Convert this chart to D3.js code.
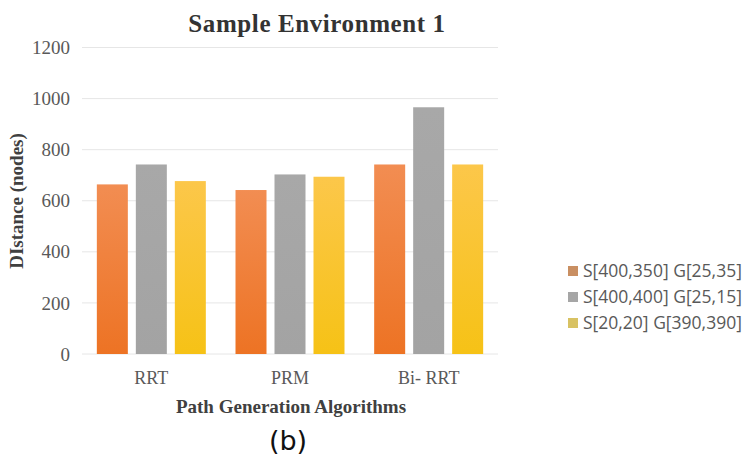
<!DOCTYPE html>
<html>
<head>
<meta charset="utf-8">
<script src="https://cdn.jsdelivr.net/npm/d3@7"></script>
<style>
  body { margin: 0; background: #fff; }
  svg { display: block; }
</style>
</head>
<body>
<div id="vis"></div>
<script>
'use strict';

// Data
const algorithms = ["RRT", "PRM", "Bi- RRT"];
const seriesNames = ["S[400,350] G[25,35]", "S[400,400] G[25,15]", "S[20,20] G[390,390]"];
const series1 = [664, 642, 742];
const series2 = [742, 703, 966];
const series3 = [677, 694, 742];
const yTicks = [0, 200, 400, 600, 800, 1000, 1200];

const seriesValues = [series1, series2, series3];

// Bar colours (top, bottom of gradient) and legend swatches
const barColors = [
    ["#F28D52", "#ED7324"],
    ["#A8A8A8", "#A3A3A3"],
    ["#FCC74A", "#F6C216"]
];
const swatchColors = ["#C98F62", "#A6A6A6", "#D8C263"];

const width = 750, height = 462;
const plot = {left: 82, right: 498, top: 47.5, bottom: 354};
const serif = "'Liberation Serif', 'DejaVu Serif', serif";

let svg = d3.select("#vis").append("svg")
    .attr("width", width)
    .attr("height", height);

let defs = svg.append("defs");
barColors.forEach((c, i) => {
    let g = defs.append("linearGradient")
        .attr("id", "grad" + i)
        .attr("x1", 0).attr("y1", 0).attr("x2", 0).attr("y2", 1);
    g.append("stop").attr("offset", "0%").attr("stop-color", c[0]);
    g.append("stop").attr("offset", "100%").attr("stop-color", c[1]);
});

// Scales
let x0 = d3.scaleBand()
    .domain(algorithms)
    .range([plot.left, plot.right])
    .paddingInner(0.214)
    .paddingOuter(0.107);

let x1 = d3.scaleBand()
    .domain(d3.range(seriesNames.length))
    .range([0, x0.bandwidth()])
    .paddingInner(0.205);

let y = d3.scaleLinear()
    .domain([0, 1200])
    .range([plot.bottom, plot.top]);

// Gridlines
svg.append("g")
    .selectAll("line")
    .data(yTicks)
    .enter()
    .append("line")
        .attr("x1", plot.left)
        .attr("x2", plot.right)
        .attr("y1", d => y(d))
        .attr("y2", d => y(d))
        .attr("stroke", "#E6E6E6")
        .attr("stroke-width", 1);

// Y axis labels
let yAxis = svg.append("g")
    .attr("transform", "translate(" + (plot.left - 12) + ",0)")
    .call(d3.axisLeft(y).tickValues(yTicks).tickFormat(d3.format("d")).tickSize(0).tickPadding(0));
yAxis.select(".domain").remove();
yAxis.selectAll("text")
    .attr("fill", "#595959")
    .style("font-family", serif)
    .style("font-size", "19px");

// X axis labels
let xAxis = svg.append("g")
    .attr("transform", "translate(0," + plot.bottom + ")")
    .call(d3.axisBottom(x0).tickSize(0).tickPadding(17));
xAxis.select(".domain").remove();
xAxis.selectAll("text")
    .attr("fill", "#595959")
    .style("font-family", serif)
    .style("font-size", "18px");

// Bars
let groups = svg.append("g")
    .selectAll("g")
    .data(algorithms)
    .enter()
    .append("g")
        .attr("transform", d => "translate(" + x0(d) + ",0)");

groups.selectAll("rect")
    .data((d, i) => seriesValues.map((s, k) => ({k: k, v: s[i]})))
    .enter()
    .append("rect")
        .attr("x", d => x1(d.k))
        .attr("y", d => y(d.v))
        .attr("width", x1.bandwidth())
        .attr("height", d => y(0) - y(d.v))
        .attr("fill", d => "url(#grad" + d.k + ")");

// Title
svg.append("text")
    .attr("x", 317)
    .attr("y", 32)
    .attr("text-anchor", "middle")
    .attr("fill", "#333")
    .style("font-family", serif)
    .style("font-weight", "bold")
    .style("font-size", "25px")
    .style("letter-spacing", "0.6px")
    .text("Sample Environment 1");

// Axis titles
svg.append("text")
    .attr("transform", "translate(23,201)rotate(-90)")
    .attr("text-anchor", "middle")
    .attr("fill", "#404040")
    .style("font-family", serif)
    .style("font-weight", "bold")
    .style("font-size", "19px")
    .text("DIstance (nodes)");

svg.append("text")
    .attr("x", 291)
    .attr("y", 413)
    .attr("text-anchor", "middle")
    .attr("fill", "#404040")
    .style("font-family", serif)
    .style("font-weight", "bold")
    .style("font-size", "19px")
    .text("Path Generation Algorithms");

// Subfigure label
svg.append("text")
    .attr("x", 288)
    .attr("y", 450)
    .attr("text-anchor", "middle")
    .attr("fill", "#111")
    .style("font-family", "'DejaVu Sans', sans-serif")
    .style("font-size", "27px")
    .text("(b)");

// Legend
let legend = svg.append("g")
    .selectAll("g")
    .data(seriesNames)
    .enter()
    .append("g")
        .attr("transform", (d, i) => "translate(568," + (271 + i * 26) + ")");

legend.append("rect")
    .attr("x", 0)
    .attr("y", -5)
    .attr("width", 10)
    .attr("height", 10)
    .attr("fill", (d, i) => swatchColors[i]);

legend.append("text")
    .attr("x", 15)
    .attr("y", 0)
    .attr("dy", "0.35em")
    .attr("fill", "#595959")
    .style("font-family", "'Open Sans', 'DejaVu Sans', sans-serif")
    .style("font-size", "17.5px")
    .text(d => d);
</script>
</body>
</html>
